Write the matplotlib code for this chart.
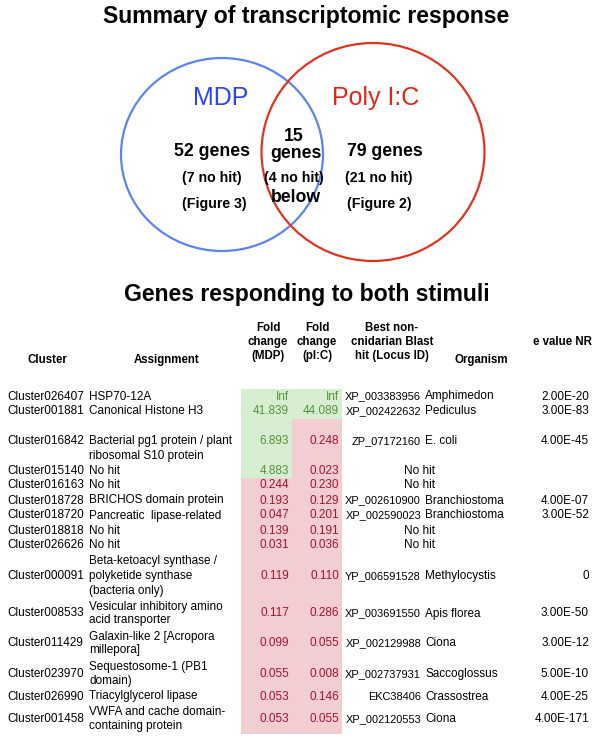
import numpy as np
import matplotlib
matplotlib.use("Agg")
import matplotlib.pyplot as plt
from matplotlib.patches import Ellipse, Rectangle

# ---------------- data ----------------
venn_sets = ["MDP", "Poly I:C"]
venn_counts = [52, 15, 79]          # MDP only, both, Poly I:C only
venn_nohit = [7, 4, 21]
venn_refs = ["(Figure 3)", "below", "(Figure 2)"]

title_top = "Summary of transcriptomic response"
title_table = "Genes responding to both stimuli"

headers = ["Cluster", "Assignment", "Fold\nchange\n(MDP)", "Fold\nchange\n(pI:C)",
           "Best non-\ncnidarian Blast\nhit (Locus ID)", "Organism", "e value NR"]

clusters = ["Cluster026407", "Cluster001881", "Cluster016842", "Cluster015140",
            "Cluster016163", "Cluster018728", "Cluster018720", "Cluster018818",
            "Cluster026626", "Cluster000091", "Cluster008533", "Cluster011429",
            "Cluster023970", "Cluster026990", "Cluster001458"]
assignments = ["HSP70-12A", "Canonical Histone H3",
               "Bacterial pg1 protein / plant\nribosomal S10 protein",
               "No hit", "No hit", "BRICHOS domain protein", "Pancreatic  lipase-related",
               "No hit", "No hit",
               "Beta-ketoacyl synthase /\npolyketide synthase\n(bacteria only)",
               "Vesicular inhibitory amino\nacid transporter",
               "Galaxin-like 2 [Acropora\nmillepora]",
               "Sequestosome-1 (PB1\ndomain)",
               "Triacylglycerol lipase",
               "VWFA and cache domain-\ncontaining protein"]
fc_mdp = [np.inf, 41.839, 6.893, 4.883, 0.244, 0.193, 0.047, 0.139, 0.031,
          0.119, 0.117, 0.099, 0.055, 0.053, 0.053]
fc_pic = [np.inf, 44.089, 0.248, 0.023, 0.230, 0.129, 0.201, 0.191, 0.036,
          0.110, 0.286, 0.055, 0.008, 0.146, 0.055]
locus = ["XP_003383956", "XP_002422632", "ZP_07172160", "", "", "XP_002610900",
         "XP_002590023", "", "", "YP_006591528", "XP_003691550", "XP_002129988",
         "XP_002737931", "EKC38406", "XP_002120553"]
organism = ["Amphimedon", "Pediculus", "E. coli", "", "", "Branchiostoma", "Branchiostoma",
            "", "", "Methylocystis", "Apis florea", "Ciona", "Saccoglossus",
            "Crassostrea", "Ciona"]
evalue = ["2.00E-20", "3.00E-83", "4.00E-45", "", "", "4.00E-07", "3.00E-52", "", "",
          "0", "3.00E-50", "3.00E-12", "5.00E-10", "4.00E-25", "4.00E-171"]

# ---------------- layout / style ----------------
W, H = 600, 741
FONT = "Liberation Sans"
fig = plt.figure(figsize=(W / 100, H / 100), dpi=100)
ax = fig.add_axes([0, 0, 1, 1])
ax.set_xlim(0, W)
ax.set_ylim(H, 0)
ax.axis("off")

BLUE_LINE = "#5b84f2"
RED_LINE = "#e0341f"
BLUE_TXT = "#2b45f5"
RED_TXT = "#e2261a"
GREEN_BG = "#d7eed2"
RED_BG = "#f2cdd2"
GREEN_TXT = "#55923a"
RED_NUM = "#a5142e"

# titles
ax.text(306, 17, title_top, fontsize=16.6, fontweight="bold", family=FONT,
        ha="center", va="center")
ax.text(307, 294, title_table, fontsize=16.6, fontweight="bold", family=FONT,
        ha="center", va="center")

# Venn circles
ax.add_patch(Ellipse((222, 154.5), 202, 193, fill=False, ec=BLUE_LINE, lw=1.6))
ax.add_patch(Ellipse((373, 152), 223, 218, fill=False, ec=RED_LINE, lw=1.6))

ax.text(221, 98, venn_sets[0], fontsize=18, color=BLUE_TXT, family=FONT,
        ha="center", va="center")
ax.text(376, 98, venn_sets[1], fontsize=18, color=RED_TXT, family=FONT,
        ha="center", va="center")

big = dict(fontsize=12.7, fontweight="bold", family=FONT, ha="center", va="center")
small = dict(fontsize=10.2, fontweight="bold", family=FONT, ha="center", va="center")

# MDP only
ax.text(212, 152, f"{venn_counts[0]} genes", **big)
ax.text(211.5, 178, f"({venn_nohit[0]} no hit)", **small)
ax.text(214, 204, venn_refs[0], **small)
# both
ax.text(293.5, 136.5, f"{venn_counts[1]}", **big)
ax.text(296, 154, "genes", **big)
ax.text(294, 178, f"({venn_nohit[1]} no hit)", **small)
ax.text(296, 197, venn_refs[1], **big)
# Poly I:C only
ax.text(385, 152, f"{venn_counts[2]} genes", **big)
ax.text(379, 178, f"({venn_nohit[2]} no hit)", **small)
ax.text(379, 204, venn_refs[2], **small)

# table headers
FS = 8.5
hdr = dict(fontsize=8.3, fontweight="bold", family=FONT, ha="center", va="center",
           linespacing=1.25)
hdr_x = [47, 167, 268, 317, 392, 481, 562]
hdr_y = [360, 360, 342, 342, 342, 360, 342]
for t, x, y in zip(headers, hdr_x, hdr_y):
    ax.text(x, y, t, **hdr)

# table rows
row_h = [15, 15, 44, 15, 15, 15, 15, 15, 15, 46, 29, 31, 30, 15, 30]
assign_top = [False, False, True] + [False] * 12
top0 = 389
x_cluster, x_assign = 7, 89
col_mdp = (241, 292)
col_pic = (292, 342)
x_locus_r, x_org, x_eval_r = 421, 425, 589

tops = top0 + np.concatenate([[0], np.cumsum(row_h)[:-1]])
txt = dict(fontsize=FS, family=FONT, va="center")


def fmt(v):
    return "Inf" if np.isinf(v) else f"{v:.3f}"


for i in range(len(clusters)):
    t, h = tops[i], row_h[i]
    yc = t + h / 2
    # coloured fold-change cells
    for v, (x0, x1) in ((fc_mdp[i], col_mdp), (fc_pic[i], col_pic)):
        up = v > 1
        ax.add_patch(Rectangle((x0, t), x1 - x0, h, fc=GREEN_BG if up else RED_BG,
                               ec="none", zorder=0))
        ax.text(x1 - 3, yc, fmt(v), color=GREEN_TXT if up else RED_NUM,
                ha="right", **txt)
    ax.text(x_cluster, yc, clusters[i], ha="left", **txt)
    lines = assignments[i].split("\n")
    n = len(lines)
    lh = 15 if n == 3 or assign_top[i] else 13.5
    for k, ln in enumerate(lines):
        yy = yc + k * lh if assign_top[i] else yc + (k - (n - 1) / 2) * lh
        ax.text(x_assign, yy, ln, ha="left", **txt)
    if locus[i]:
        ax.text(x_locus_r, yc, locus[i], ha="right", fontsize=7.9, family=FONT,
                va="center")
        ax.text(x_org, yc, organism[i], ha="left", **txt)
        ax.text(x_eval_r, yc, evalue[i], ha="right", **txt)
    else:
        ax.text(419, yc, "No hit", ha="center", **txt)

fig.savefig("out.png", dpi=100)
